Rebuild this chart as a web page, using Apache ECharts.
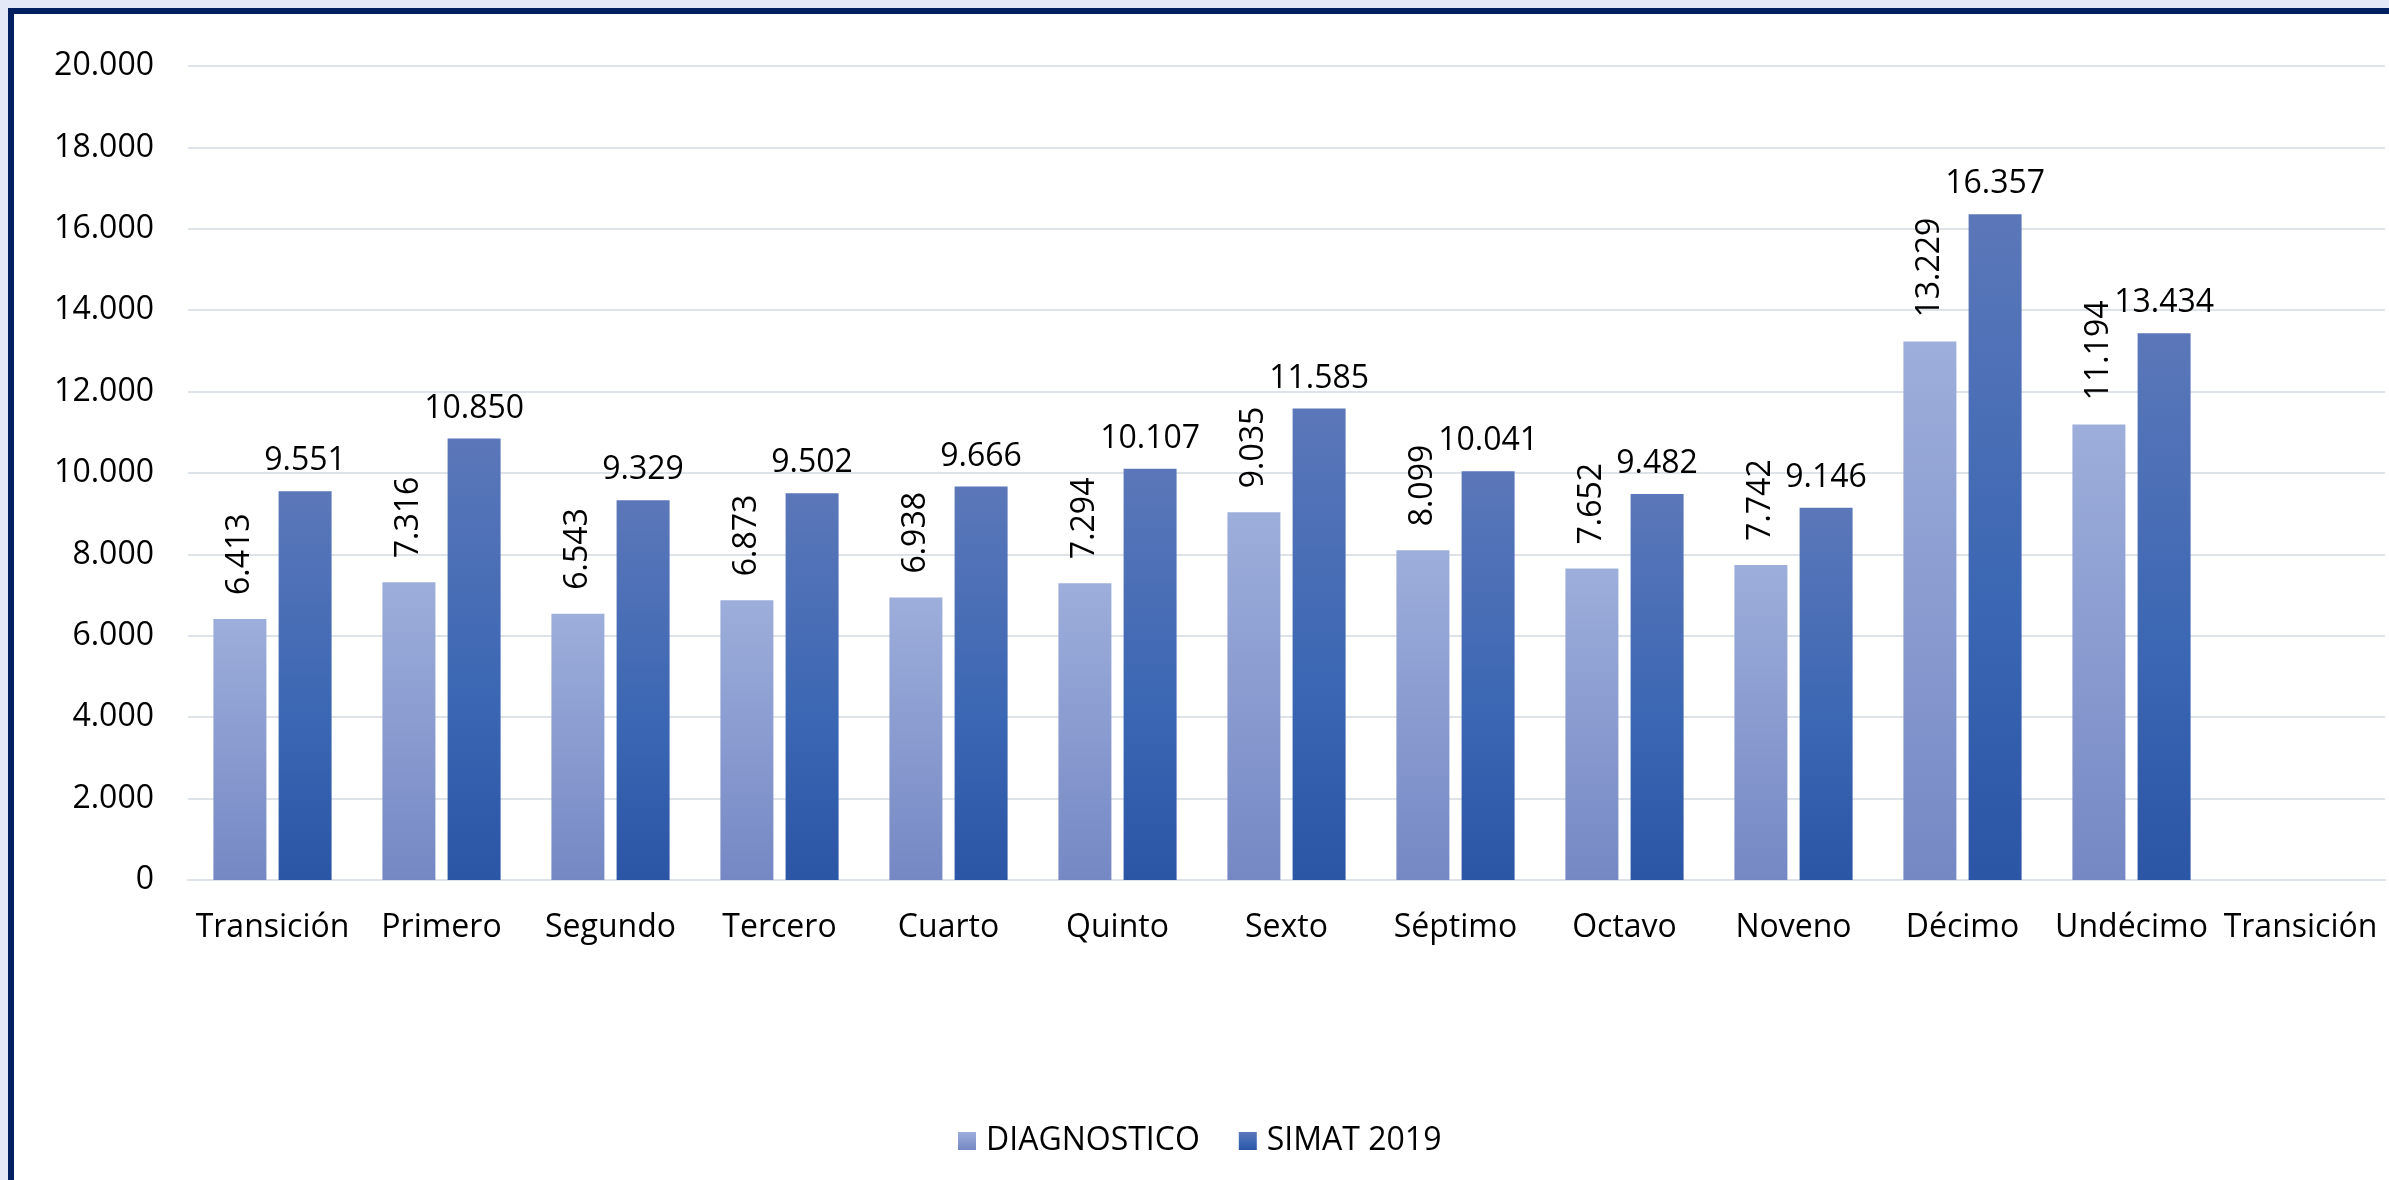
<!DOCTYPE html>
<html>
<head>
<meta charset="utf-8">
<script src="https://cdn.jsdelivr.net/npm/echarts@6/dist/echarts.min.js"></script>
<style>
  html, body { margin: 0; padding: 0; background: #e3e9f6; overflow: hidden; }
  #frame {
    position: absolute; left: 8px; top: 8px; width: 2381px; height: 1172px;
    border-top: 6px solid #002060; border-left: 6px solid #002060;
    background: #ffffff;
  }
  #main { position: absolute; left: 0; top: 0; width: 2375px; height: 1166px; }
</style>
</head>
<body>
<div id="frame"><div id="main"></div></div>
<script>
const categories = ['Transición', 'Primero', 'Segundo', 'Tercero', 'Cuarto', 'Quinto', 'Sexto',
  'Séptimo', 'Octavo', 'Noveno', 'Décimo', 'Undécimo', 'Transición'];
const diagnostico = [6413, 7316, 6543, 6873, 6938, 7294, 9035, 8099, 7652, 7742, 13229, 11194, null];
const simat2019 = [9551, 10850, 9329, 9502, 9666, 10107, 11585, 10041, 9482, 9146, 16357, 13434, null];
const seriesNames = ['DIAGNOSTICO', 'SIMAT 2019'];

const fontFamily = '"Open Sans", "Noto Sans", sans-serif';
const fmt = v => Number(v).toLocaleString('de-DE');

const chart = echarts.init(document.getElementById('main'));

const option = {
  animation: false,
  textStyle: { fontFamily: fontFamily },
  grid: { left: 174, top: 52, right: 4, bottom: 300 },
  legend: {
    left: 939, top: 1106,
    itemWidth: 18, itemHeight: 18, itemGap: 39,
    icon: 'rect',
    textStyle: { fontSize: 32, color: '#000', fontFamily: fontFamily, padding: [0, 0, 0, 5] },
    data: seriesNames
  },
  xAxis: {
    type: 'category',
    data: categories,
    axisTick: { show: false },
    axisLine: { show: true, lineStyle: { color: '#dee3ea', width: 2 } },
    axisLabel: { fontSize: 32, color: '#000', margin: 32, interval: 0, fontFamily: fontFamily }
  },
  yAxis: {
    type: 'value',
    min: 0, max: 20000, interval: 2000,
    axisLine: { show: false },
    axisTick: { show: false },
    splitLine: { lineStyle: { color: '#dee3ea', width: 2 } },
    axisLabel: { fontSize: 32, color: '#000', margin: 34, fontFamily: fontFamily, formatter: fmt }
  },
  series: [
    {
      name: seriesNames[0],
      type: 'bar',
      data: diagnostico,
      barWidth: 53,
      barGap: '23%',
      itemStyle: {
        color: new echarts.graphic.LinearGradient(0, 0, 0, 1, [
          { offset: 0, color: '#9daedb' },
          { offset: 1, color: '#7588c4' }
        ])
      },
      label: {
        show: true, position: 'top', rotate: 90, align: 'left', verticalAlign: 'middle',
        distance: 24, fontSize: 32, color: '#000', fontFamily: fontFamily,
        formatter: p => fmt(p.value)
      }
    },
    {
      name: seriesNames[1],
      type: 'bar',
      data: simat2019,
      barWidth: 53,
      itemStyle: {
        color: new echarts.graphic.LinearGradient(0, 0, 0, 1, [
          { offset: 0, color: '#5b77b9' },
          { offset: 0.6, color: '#3a66b3' },
          { offset: 1, color: '#2b55a5' }
        ])
      },
      label: {
        show: true, position: 'top', distance: 14, fontSize: 32, color: '#000',
        fontFamily: fontFamily,
        formatter: p => fmt(p.value)
      }
    }
  ]
};

chart.setOption(option);
window.addEventListener('resize', function () {
  chart.resize();
});
</script>
</body>
</html>
